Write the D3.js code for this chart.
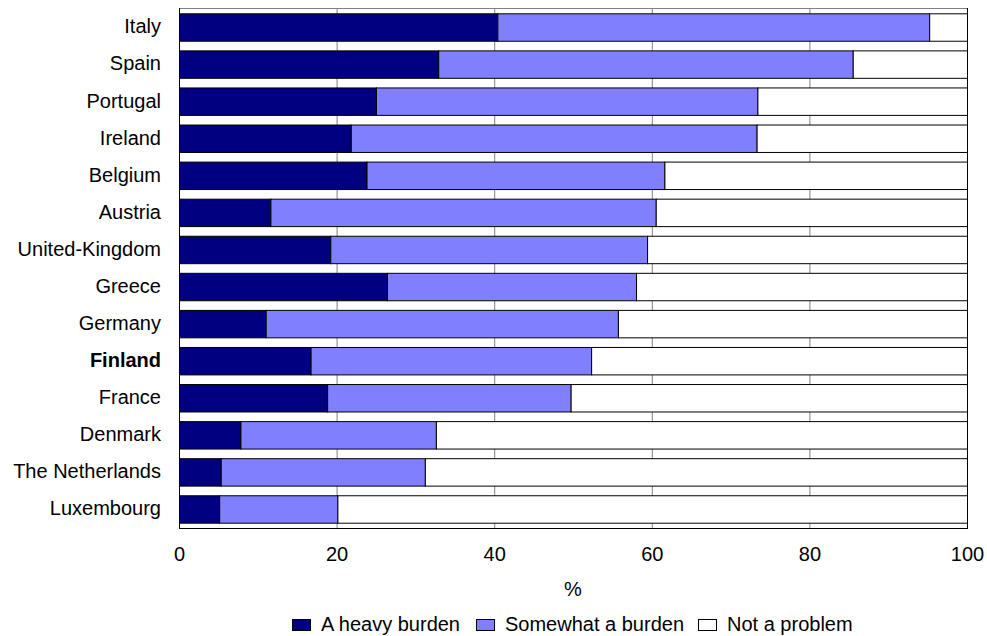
<!DOCTYPE html>
<html>
<head>
<meta charset="utf-8">
<script src="https://cdn.jsdelivr.net/npm/d3@7"></script>
<style>
  html, body { margin: 0; padding: 0; background: #fff; }
  svg { display: block; font-family: "Liberation Sans", Arial, sans-serif; }
</style>
</head>
<body>
<svg id="chart" width="987" height="636"></svg>
<script>
const countries = ["Italy","Spain","Portugal","Ireland","Belgium","Austria","United-Kingdom","Greece","Germany","Finland","France","Denmark","The Netherlands","Luxembourg"];
const heavyBurden     = [40.4, 32.9, 25.0, 21.8, 23.8, 11.6, 19.2, 26.4, 11.0, 16.7, 18.8, 7.8, 5.3, 5.1];
const somewhatBurden  = [54.8, 52.6, 48.4, 51.5, 37.8, 48.9, 40.2, 31.6, 44.7, 35.6, 30.9, 24.8, 25.9, 15.0];
const notProblem      = [4.8, 14.5, 26.6, 26.7, 38.4, 39.5, 40.6, 42.0, 44.3, 47.7, 50.3, 67.4, 68.8, 79.9];
const seriesNames = ["A heavy burden", "Somewhat a burden", "Not a problem"];
const seriesColors = ["#000080", "#8080FF", "#FFFFFF"];
const xTicks = [0, 20, 40, 60, 80, 100];
const highlight = "Finland";

const rows = countries.map((c, i) => ({
  country: c,
  "A heavy burden": heavyBurden[i],
  "Somewhat a burden": somewhatBurden[i],
  "Not a problem": notProblem[i]
}));

const svg = d3.select("#chart");
const L = 179, R = 967, T = 8, B = 528;

const x = d3.scaleLinear().domain([0, 100]).range([L, R]);
const y = d3.scaleBand().domain(countries).range([T, B]).paddingInner(0.26).paddingOuter(0.143);
const color = d3.scaleOrdinal().domain(seriesNames).range(seriesColors);

// gridlines
svg.append("g").selectAll("line").data(xTicks.filter(t => t > 0 && t < 100)).join("line")
  .attr("x1", d => x(d) + 0.5).attr("x2", d => x(d) + 0.5)
  .attr("y1", T).attr("y2", B)
  .attr("stroke", "#808080").attr("stroke-width", 1);

// bars
const stacked = d3.stack().keys(seriesNames)(rows);
svg.append("g").selectAll("g").data(stacked).join("g")
  .attr("fill", d => color(d.key))
  .selectAll("rect").data(d => d).join("rect")
  .attr("x", d => x(d[0]) + 0.5)
  .attr("y", d => y(d.data.country) + 0.5)
  .attr("width", d => Math.max(0, x(d[1]) - x(d[0])))
  .attr("height", y.bandwidth())
  .attr("stroke", "#000").attr("stroke-width", 1);

// frame
svg.append("line").attr("x1", L).attr("x2", R).attr("y1", T + 0.5).attr("y2", T + 0.5).attr("stroke", "#808080");
svg.append("line").attr("x1", R + 0.5).attr("x2", R + 0.5).attr("y1", T).attr("y2", B + 1).attr("stroke", "#000");
svg.append("line").attr("x1", L + 0.5).attr("x2", L + 0.5).attr("y1", T).attr("y2", B + 1).attr("stroke", "#000");
svg.append("line").attr("x1", L).attr("x2", R + 1).attr("y1", B + 0.5).attr("y2", B + 0.5).attr("stroke", "#000");

// x axis
const xAxis = svg.append("g").attr("transform", `translate(0,${B})`)
  .call(d3.axisBottom(x).tickValues(xTicks).tickSize(0).tickPadding(19));
xAxis.select(".domain").remove();
xAxis.selectAll("text").attr("font-size", 20).attr("fill", "#000")
  .attr("font-family", "'Liberation Sans', Arial, sans-serif");

// y labels
const yAxis = svg.append("g").attr("transform", `translate(${L},0)`)
  .call(d3.axisLeft(y).tickSize(0).tickPadding(18));
yAxis.select(".domain").remove();
yAxis.selectAll("text").attr("font-size", 20).attr("fill", "#000")
  .attr("font-family", "'Liberation Sans', Arial, sans-serif")
  .attr("font-weight", d => d === highlight ? "bold" : "normal");

// x title
svg.append("text").attr("x", (L + R) / 2).attr("y", 596).attr("text-anchor", "middle")
  .attr("font-size", 20).text("%");

// legend
const legendX = [292, 476, 698];
const lg = svg.append("g").selectAll("g").data(seriesNames).join("g")
  .attr("transform", (d, i) => `translate(${legendX[i]},0)`);
lg.append("rect").attr("x", 0.5).attr("y", 619.5).attr("width", 18).attr("height", 11)
  .attr("fill", d => color(d)).attr("stroke", "#000");
lg.append("text").attr("x", 29).attr("y", 631).attr("font-size", 20).text(d => d);
</script>
</body>
</html>
